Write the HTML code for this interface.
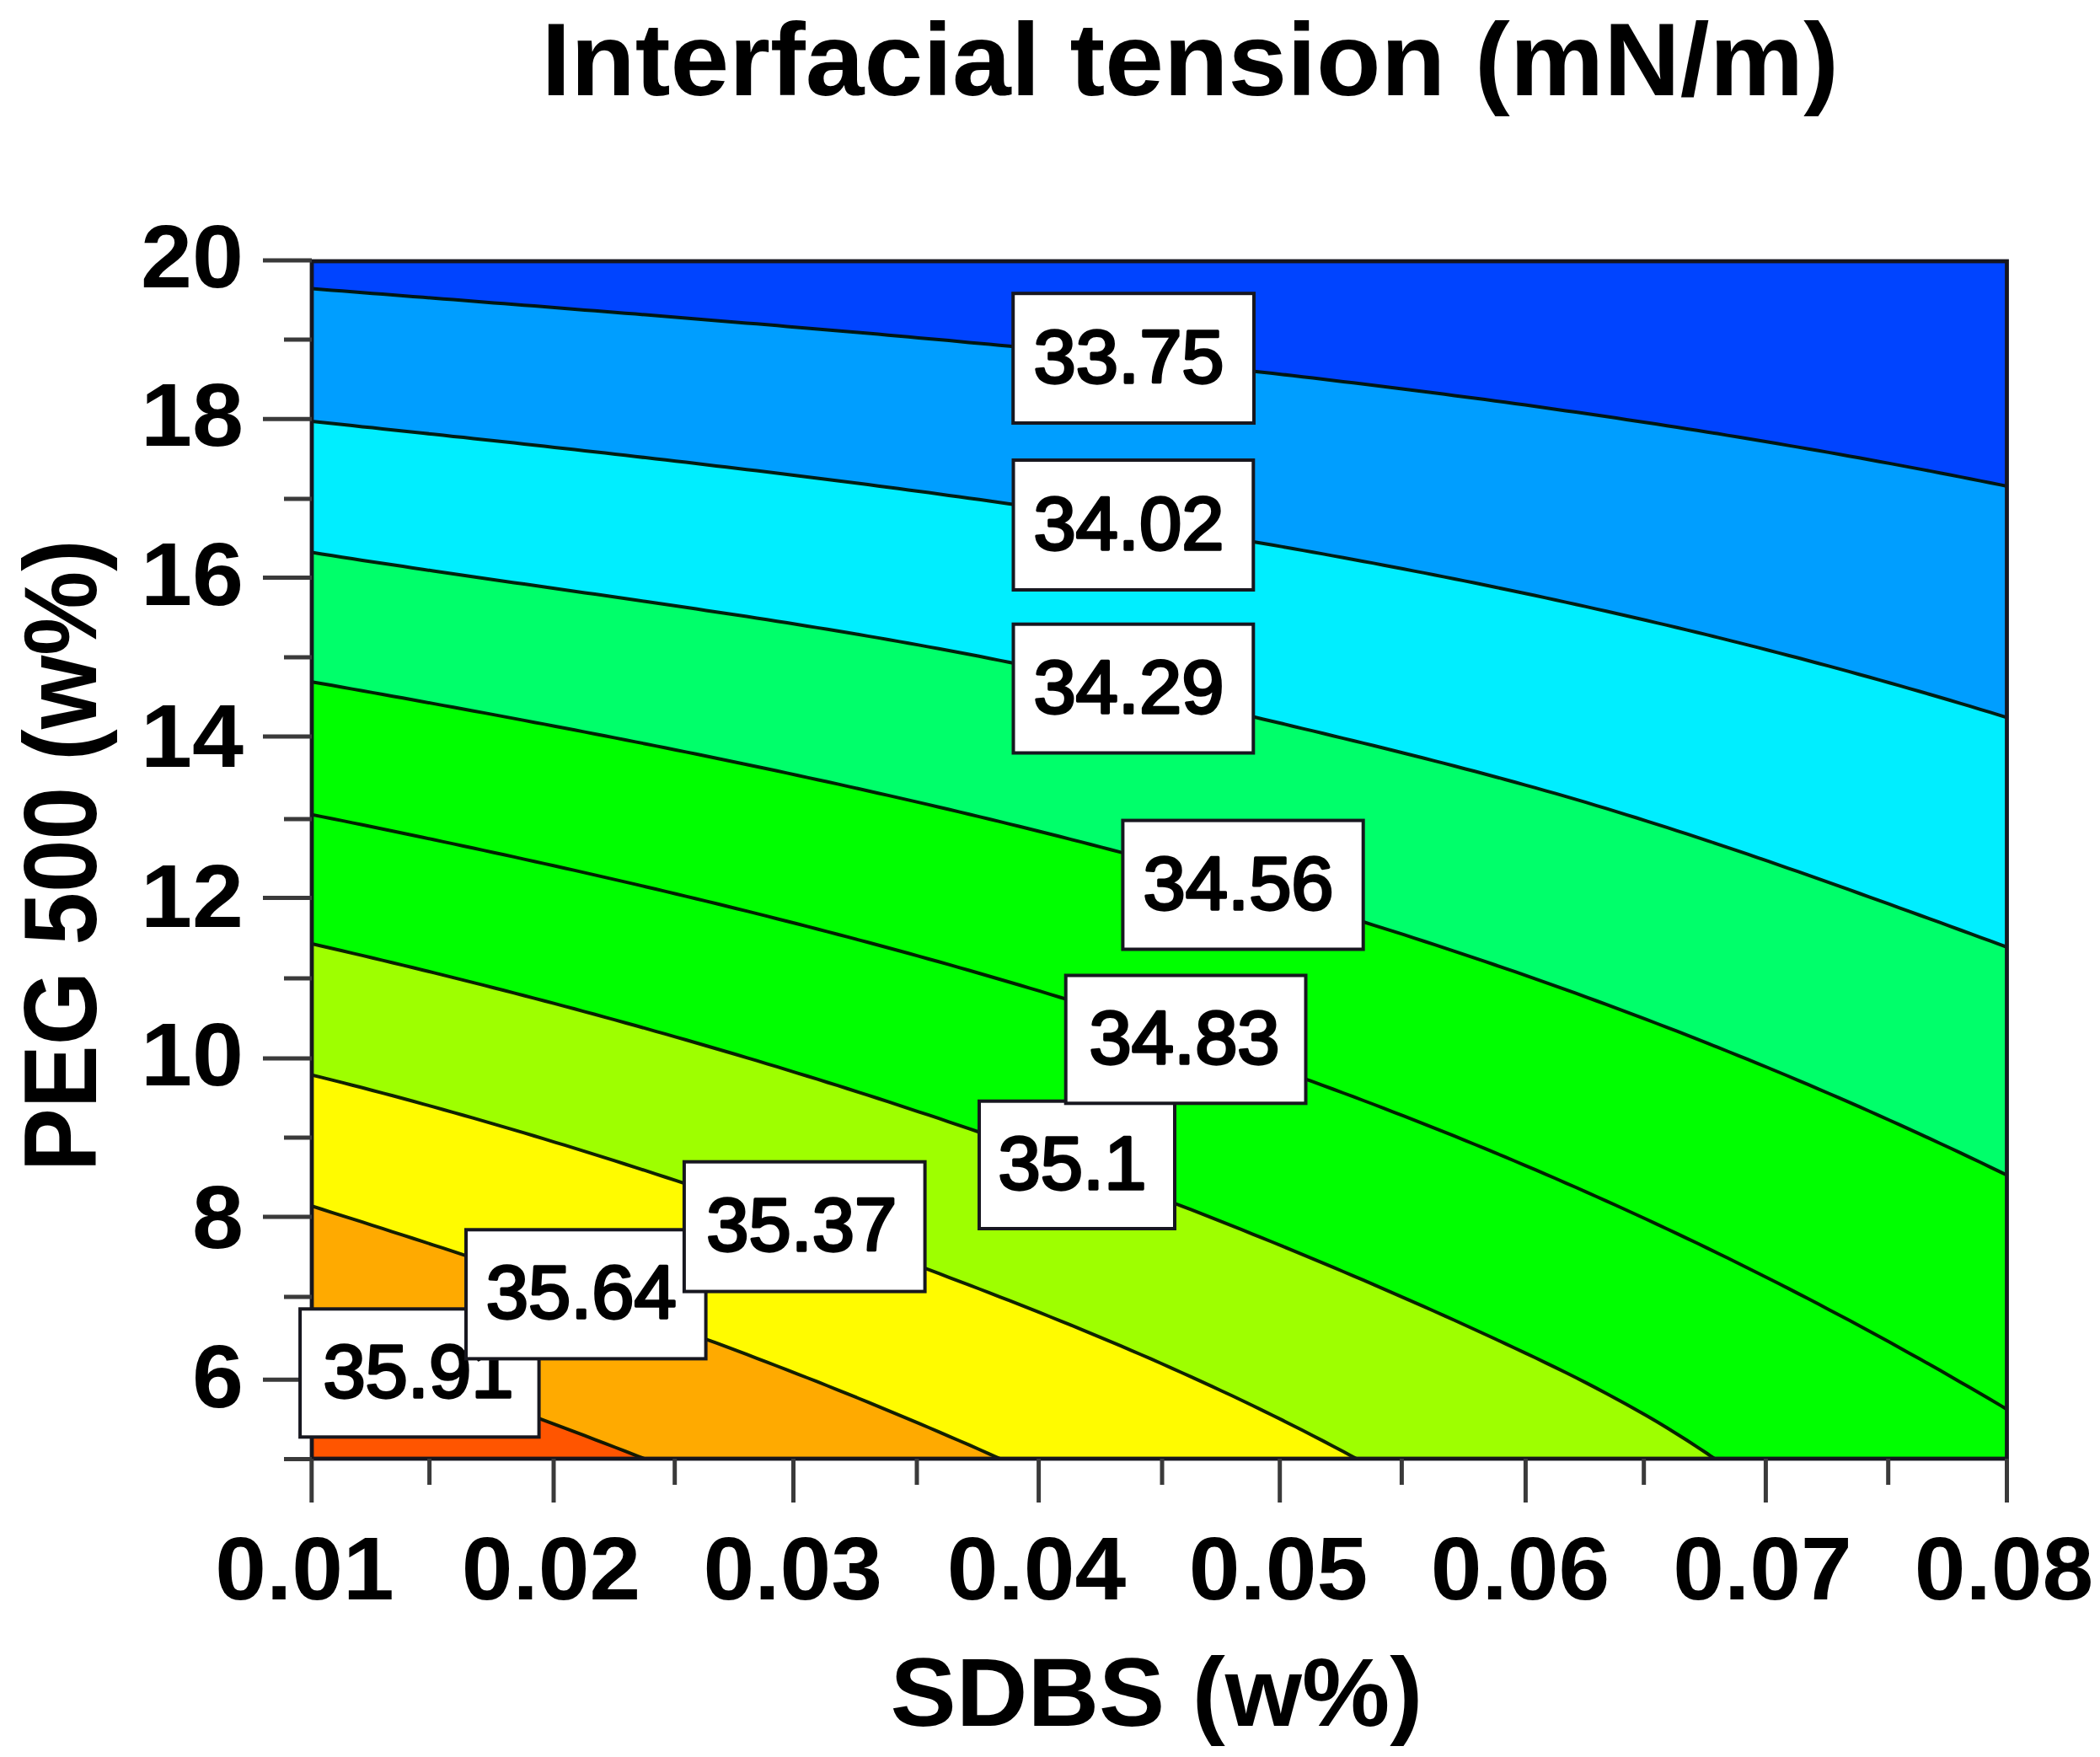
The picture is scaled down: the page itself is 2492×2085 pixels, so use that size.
<!DOCTYPE html>
<html><head><meta charset="utf-8"><title>Interfacial tension contour</title>
<style>html,body{margin:0;padding:0;background:#fff;overflow:hidden}svg{display:block}text{font-family:"Liberation Sans",sans-serif}.b{font-weight:bold}.r{font-weight:normal}</style></head>
<body>
<svg width="2492" height="2085" viewBox="0 0 2492 2085">
<defs><clipPath id="pc"><rect x="370.0" y="310.0" width="2011.5" height="1421.0"/></clipPath></defs>
<rect width="2492" height="2085" fill="#fff"/>
<g clip-path="url(#pc)">
<rect x="370.0" y="310.0" width="2011.5" height="1421.0" fill="#0044FF"/>
<path d="M360.0,341.7 L370.0,342.5 L382.0,343.5 L394.0,344.4 L406.0,345.3 L418.0,346.3 L430.0,347.2 L442.0,348.2 L454.0,349.1 L466.0,350.0 L478.0,351.0 L490.0,351.9 L502.0,352.8 L514.0,353.8 L526.0,354.7 L538.0,355.6 L550.0,356.6 L562.0,357.5 L574.0,358.4 L586.0,359.4 L598.0,360.3 L610.0,361.3 L622.0,362.2 L634.0,363.1 L646.0,364.1 L658.0,365.0 L670.0,366.0 L682.0,366.9 L694.0,367.9 L706.0,368.8 L718.0,369.8 L730.0,370.7 L742.0,371.7 L754.0,372.6 L766.0,373.6 L778.0,374.5 L790.0,375.5 L802.0,376.5 L814.0,377.5 L826.0,378.4 L838.0,379.4 L850.0,380.4 L862.0,381.4 L874.0,382.4 L886.0,383.4 L898.0,384.3 L910.0,385.3 L922.0,386.3 L934.0,387.4 L946.0,388.4 L958.0,389.4 L970.0,390.4 L982.0,391.4 L994.0,392.5 L1006.0,393.5 L1018.0,394.5 L1030.0,395.6 L1042.0,396.6 L1054.0,397.7 L1066.0,398.8 L1078.0,399.8 L1090.0,400.9 L1102.0,402.0 L1114.0,403.1 L1126.0,404.1 L1138.0,405.2 L1150.0,406.4 L1162.0,407.5 L1174.0,408.6 L1186.0,409.7 L1198.0,410.8 L1210.0,412.0 L1222.0,413.1 L1234.0,414.3 L1246.0,415.4 L1258.0,416.6 L1270.0,417.8 L1282.0,419.0 L1294.0,420.1 L1306.0,421.3 L1318.0,422.6 L1330.0,423.8 L1342.0,425.0 L1354.0,426.2 L1366.0,427.5 L1378.0,428.7 L1390.0,430.0 L1402.0,431.2 L1414.0,432.5 L1426.0,433.8 L1438.0,435.1 L1450.0,436.4 L1462.0,437.7 L1474.0,439.0 L1486.0,440.4 L1498.0,441.7 L1510.0,443.1 L1522.0,444.4 L1534.0,445.8 L1546.0,447.2 L1558.0,448.6 L1570.0,450.0 L1582.0,451.4 L1594.0,452.9 L1606.0,454.3 L1618.0,455.8 L1630.0,457.2 L1642.0,458.7 L1654.0,460.2 L1666.0,461.7 L1678.0,463.2 L1690.0,464.7 L1702.0,466.2 L1714.0,467.8 L1726.0,469.4 L1738.0,470.9 L1750.0,472.5 L1762.0,474.1 L1774.0,475.7 L1786.0,477.3 L1798.0,479.0 L1810.0,480.6 L1822.0,482.3 L1834.0,484.0 L1846.0,485.7 L1858.0,487.4 L1870.0,489.1 L1882.0,490.8 L1894.0,492.6 L1906.0,494.3 L1918.0,496.1 L1930.0,497.9 L1942.0,499.7 L1954.0,501.5 L1966.0,503.3 L1978.0,505.2 L1990.0,507.0 L2002.0,508.9 L2014.0,510.8 L2026.0,512.7 L2038.0,514.6 L2050.0,516.6 L2062.0,518.5 L2074.0,520.5 L2086.0,522.5 L2098.0,524.5 L2110.0,526.5 L2122.0,528.6 L2134.0,530.6 L2146.0,532.7 L2158.0,534.8 L2170.0,536.9 L2182.0,539.0 L2194.0,541.2 L2206.0,543.3 L2218.0,545.5 L2230.0,547.7 L2242.0,549.9 L2254.0,552.1 L2266.0,554.4 L2278.0,556.6 L2290.0,558.9 L2302.0,561.2 L2314.0,563.5 L2326.0,565.9 L2338.0,568.2 L2350.0,570.6 L2362.0,573.0 L2374.0,575.4 L2382.0,577.0 L2422.0,585.1 L2422.0,1791.0 L360.0,1791.0 Z" fill="#009EFF"/>
<path d="M360.0,499.0 L370.0,500.1 L382.0,501.3 L394.0,502.6 L406.0,503.8 L418.0,505.1 L430.0,506.4 L442.0,507.6 L454.0,508.9 L466.0,510.2 L478.0,511.5 L490.0,512.7 L502.0,514.0 L514.0,515.3 L526.0,516.6 L538.0,517.9 L550.0,519.1 L562.0,520.4 L574.0,521.7 L586.0,523.0 L598.0,524.3 L610.0,525.6 L622.0,527.0 L634.0,528.3 L646.0,529.6 L658.0,530.9 L670.0,532.2 L682.0,533.6 L694.0,534.9 L706.0,536.3 L718.0,537.6 L730.0,539.0 L742.0,540.3 L754.0,541.7 L766.0,543.1 L778.0,544.4 L790.0,545.8 L802.0,547.2 L814.0,548.6 L826.0,550.0 L838.0,551.4 L850.0,552.9 L862.0,554.3 L874.0,555.7 L886.0,557.2 L898.0,558.6 L910.0,560.1 L922.0,561.5 L934.0,563.0 L946.0,564.5 L958.0,566.0 L970.0,567.5 L982.0,569.0 L994.0,570.5 L1006.0,572.0 L1018.0,573.6 L1030.0,575.1 L1042.0,576.7 L1054.0,578.2 L1066.0,579.8 L1078.0,581.4 L1090.0,583.0 L1102.0,584.6 L1114.0,586.2 L1126.0,587.9 L1138.0,589.5 L1150.0,591.2 L1162.0,592.8 L1174.0,594.5 L1186.0,596.2 L1198.0,597.9 L1210.0,599.6 L1222.0,601.3 L1234.0,603.1 L1246.0,604.8 L1258.0,606.6 L1270.0,608.3 L1282.0,610.1 L1294.0,611.9 L1306.0,613.7 L1318.0,615.6 L1330.0,617.4 L1342.0,619.3 L1354.0,621.1 L1366.0,623.0 L1378.0,624.9 L1390.0,626.8 L1402.0,628.8 L1414.0,630.7 L1426.0,632.7 L1438.0,634.6 L1450.0,636.6 L1462.0,638.6 L1474.0,640.6 L1486.0,642.7 L1498.0,644.7 L1510.0,646.8 L1522.0,648.9 L1534.0,651.0 L1546.0,653.1 L1558.0,655.2 L1570.0,657.4 L1582.0,659.6 L1594.0,661.8 L1606.0,664.0 L1618.0,666.2 L1630.0,668.4 L1642.0,670.7 L1654.0,673.0 L1666.0,675.2 L1678.0,677.6 L1690.0,679.9 L1702.0,682.2 L1714.0,684.6 L1726.0,687.0 L1738.0,689.4 L1750.0,691.8 L1762.0,694.3 L1774.0,696.8 L1786.0,699.2 L1798.0,701.7 L1810.0,704.3 L1822.0,706.8 L1834.0,709.4 L1846.0,712.0 L1858.0,714.6 L1870.0,717.2 L1882.0,719.9 L1894.0,722.6 L1906.0,725.3 L1918.0,728.0 L1930.0,730.7 L1942.0,733.5 L1954.0,736.3 L1966.0,739.1 L1978.0,741.9 L1990.0,744.7 L2002.0,747.6 L2014.0,750.5 L2026.0,753.4 L2038.0,756.4 L2050.0,759.4 L2062.0,762.4 L2074.0,765.4 L2086.0,768.4 L2098.0,771.5 L2110.0,774.6 L2122.0,777.7 L2134.0,780.8 L2146.0,784.0 L2158.0,787.2 L2170.0,790.4 L2182.0,793.6 L2194.0,796.9 L2206.0,800.2 L2218.0,803.5 L2230.0,806.9 L2242.0,810.2 L2254.0,813.6 L2266.0,817.1 L2278.0,820.5 L2290.0,824.0 L2302.0,827.5 L2314.0,831.0 L2326.0,834.6 L2338.0,838.2 L2350.0,841.8 L2362.0,845.4 L2374.0,849.1 L2382.0,851.6 L2422.0,863.9 L2422.0,1791.0 L360.0,1791.0 Z" fill="#00EEFF"/>
<path d="M360.0,653.9 L370.0,655.5 L382.0,657.4 L394.0,659.3 L406.0,661.2 L418.0,663.0 L430.0,664.9 L442.0,666.7 L454.0,668.5 L466.0,670.3 L478.0,672.1 L490.0,673.9 L502.0,675.7 L514.0,677.5 L526.0,679.2 L538.0,681.0 L550.0,682.7 L562.0,684.5 L574.0,686.2 L586.0,687.9 L598.0,689.7 L610.0,691.4 L622.0,693.1 L634.0,694.8 L646.0,696.5 L658.0,698.3 L670.0,700.0 L682.0,701.7 L694.0,703.4 L706.0,705.1 L718.0,706.8 L730.0,708.6 L742.0,710.3 L754.0,712.0 L766.0,713.8 L778.0,715.5 L790.0,717.3 L802.0,719.0 L814.0,720.8 L826.0,722.6 L838.0,724.4 L850.0,726.2 L862.0,728.0 L874.0,729.8 L886.0,731.6 L898.0,733.5 L910.0,735.3 L922.0,737.2 L934.0,739.1 L946.0,741.0 L958.0,742.9 L970.0,744.9 L982.0,746.8 L994.0,748.8 L1006.0,750.8 L1018.0,752.8 L1030.0,754.9 L1042.0,756.9 L1054.0,759.0 L1066.0,761.1 L1078.0,763.2 L1090.0,765.4 L1102.0,767.6 L1114.0,769.8 L1126.0,772.0 L1138.0,774.2 L1150.0,776.5 L1162.0,778.8 L1174.0,781.2 L1186.0,783.6 L1198.0,786.0 L1210.0,788.4 L1222.0,790.8 L1234.0,793.3 L1246.0,795.9 L1258.0,798.4 L1270.0,801.0 L1282.0,803.6 L1294.0,806.2 L1306.0,808.8 L1318.0,811.5 L1330.0,814.2 L1342.0,816.9 L1354.0,819.6 L1366.0,822.3 L1378.0,825.1 L1390.0,827.9 L1402.0,830.6 L1414.0,833.4 L1426.0,836.2 L1438.0,839.0 L1450.0,841.9 L1462.0,844.7 L1474.0,847.5 L1486.0,850.3 L1498.0,853.2 L1510.0,856.0 L1522.0,858.8 L1534.0,861.7 L1546.0,864.6 L1558.0,867.4 L1570.0,870.3 L1582.0,873.2 L1594.0,876.1 L1606.0,879.0 L1618.0,881.9 L1630.0,884.8 L1642.0,887.8 L1654.0,890.8 L1666.0,893.8 L1678.0,896.8 L1690.0,899.8 L1702.0,902.9 L1714.0,905.9 L1726.0,909.0 L1738.0,912.2 L1750.0,915.3 L1762.0,918.5 L1774.0,921.7 L1786.0,925.0 L1798.0,928.3 L1810.0,931.6 L1822.0,934.9 L1834.0,938.3 L1846.0,941.7 L1858.0,945.2 L1870.0,948.7 L1882.0,952.2 L1894.0,955.8 L1906.0,959.4 L1918.0,963.1 L1930.0,966.8 L1942.0,970.5 L1954.0,974.3 L1966.0,978.1 L1978.0,981.9 L1990.0,985.8 L2002.0,989.7 L2014.0,993.6 L2026.0,997.6 L2038.0,1001.6 L2050.0,1005.6 L2062.0,1009.6 L2074.0,1013.7 L2086.0,1017.8 L2098.0,1021.9 L2110.0,1026.1 L2122.0,1030.3 L2134.0,1034.4 L2146.0,1038.6 L2158.0,1042.9 L2170.0,1047.1 L2182.0,1051.4 L2194.0,1055.7 L2206.0,1060.0 L2218.0,1064.3 L2230.0,1068.6 L2242.0,1072.9 L2254.0,1077.3 L2266.0,1081.6 L2278.0,1086.0 L2290.0,1090.4 L2302.0,1094.7 L2314.0,1099.1 L2326.0,1103.5 L2338.0,1107.9 L2350.0,1112.3 L2362.0,1116.7 L2374.0,1121.1 L2382.0,1124.0 L2422.0,1138.7 L2422.0,1791.0 L360.0,1791.0 Z" fill="#00FF6A"/>
<path d="M360.0,807.3 L370.0,809.1 L382.0,811.2 L394.0,813.3 L406.0,815.5 L418.0,817.6 L430.0,819.7 L442.0,821.9 L454.0,824.0 L466.0,826.2 L478.0,828.3 L490.0,830.5 L502.0,832.7 L514.0,834.9 L526.0,837.1 L538.0,839.3 L550.0,841.5 L562.0,843.7 L574.0,845.9 L586.0,848.1 L598.0,850.4 L610.0,852.6 L622.0,854.9 L634.0,857.2 L646.0,859.4 L658.0,861.7 L670.0,864.0 L682.0,866.3 L694.0,868.6 L706.0,871.0 L718.0,873.3 L730.0,875.6 L742.0,878.0 L754.0,880.4 L766.0,882.7 L778.0,885.1 L790.0,887.5 L802.0,890.0 L814.0,892.4 L826.0,894.8 L838.0,897.3 L850.0,899.8 L862.0,902.2 L874.0,904.7 L886.0,907.2 L898.0,909.8 L910.0,912.3 L922.0,914.8 L934.0,917.4 L946.0,920.0 L958.0,922.6 L970.0,925.2 L982.0,927.8 L994.0,930.4 L1006.0,933.1 L1018.0,935.8 L1030.0,938.5 L1042.0,941.2 L1054.0,943.9 L1066.0,946.6 L1078.0,949.4 L1090.0,952.1 L1102.0,954.9 L1114.0,957.7 L1126.0,960.5 L1138.0,963.4 L1150.0,966.2 L1162.0,969.1 L1174.0,972.0 L1186.0,974.9 L1198.0,977.9 L1210.0,980.8 L1222.0,983.8 L1234.0,986.8 L1246.0,989.8 L1258.0,992.8 L1270.0,995.9 L1282.0,998.9 L1294.0,1002.0 L1306.0,1005.1 L1318.0,1008.3 L1330.0,1011.4 L1342.0,1014.6 L1354.0,1017.8 L1366.0,1021.0 L1378.0,1024.3 L1390.0,1027.5 L1402.0,1030.8 L1414.0,1034.1 L1426.0,1037.4 L1438.0,1040.8 L1450.0,1044.2 L1462.0,1047.6 L1474.0,1051.0 L1486.0,1054.5 L1498.0,1057.9 L1510.0,1061.4 L1522.0,1065.0 L1534.0,1068.5 L1546.0,1072.1 L1558.0,1075.7 L1570.0,1079.3 L1582.0,1082.9 L1594.0,1086.6 L1606.0,1090.3 L1618.0,1094.0 L1630.0,1097.8 L1642.0,1101.6 L1654.0,1105.4 L1666.0,1109.2 L1678.0,1113.1 L1690.0,1117.0 L1702.0,1120.9 L1714.0,1124.8 L1726.0,1128.8 L1738.0,1132.8 L1750.0,1136.8 L1762.0,1140.9 L1774.0,1145.0 L1786.0,1149.1 L1798.0,1153.2 L1810.0,1157.4 L1822.0,1161.6 L1834.0,1165.9 L1846.0,1170.1 L1858.0,1174.4 L1870.0,1178.7 L1882.0,1183.1 L1894.0,1187.5 L1906.0,1191.9 L1918.0,1196.4 L1930.0,1200.8 L1942.0,1205.4 L1954.0,1209.9 L1966.0,1214.5 L1978.0,1219.1 L1990.0,1223.7 L2002.0,1228.4 L2014.0,1233.1 L2026.0,1237.9 L2038.0,1242.7 L2050.0,1247.5 L2062.0,1252.3 L2074.0,1257.2 L2086.0,1262.1 L2098.0,1267.0 L2110.0,1272.0 L2122.0,1277.0 L2134.0,1282.1 L2146.0,1287.2 L2158.0,1292.3 L2170.0,1297.5 L2182.0,1302.7 L2194.0,1307.9 L2206.0,1313.2 L2218.0,1318.5 L2230.0,1323.8 L2242.0,1329.2 L2254.0,1334.6 L2266.0,1340.1 L2278.0,1345.6 L2290.0,1351.1 L2302.0,1356.7 L2314.0,1362.3 L2326.0,1367.9 L2338.0,1373.6 L2350.0,1379.3 L2362.0,1385.1 L2374.0,1390.9 L2382.0,1394.8 L2422.0,1414.2 L2422.0,1791.0 L360.0,1791.0 Z" fill="#00FF00"/>
<path d="M360.0,964.6 L370.0,966.6 L382.0,969.1 L394.0,971.5 L406.0,973.9 L418.0,976.4 L430.0,978.8 L442.0,981.3 L454.0,983.8 L466.0,986.3 L478.0,988.8 L490.0,991.3 L502.0,993.8 L514.0,996.3 L526.0,998.9 L538.0,1001.4 L550.0,1004.0 L562.0,1006.5 L574.0,1009.1 L586.0,1011.7 L598.0,1014.3 L610.0,1016.9 L622.0,1019.6 L634.0,1022.2 L646.0,1024.9 L658.0,1027.5 L670.0,1030.2 L682.0,1032.9 L694.0,1035.6 L706.0,1038.4 L718.0,1041.1 L730.0,1043.9 L742.0,1046.6 L754.0,1049.4 L766.0,1052.2 L778.0,1055.0 L790.0,1057.9 L802.0,1060.7 L814.0,1063.6 L826.0,1066.5 L838.0,1069.4 L850.0,1072.3 L862.0,1075.2 L874.0,1078.2 L886.0,1081.1 L898.0,1084.1 L910.0,1087.1 L922.0,1090.2 L934.0,1093.2 L946.0,1096.3 L958.0,1099.4 L970.0,1102.5 L982.0,1105.6 L994.0,1108.7 L1006.0,1111.9 L1018.0,1115.1 L1030.0,1118.3 L1042.0,1121.5 L1054.0,1124.8 L1066.0,1128.0 L1078.0,1131.3 L1090.0,1134.6 L1102.0,1138.0 L1114.0,1141.3 L1126.0,1144.7 L1138.0,1148.1 L1150.0,1151.5 L1162.0,1155.0 L1174.0,1158.5 L1186.0,1162.0 L1198.0,1165.5 L1210.0,1169.0 L1222.0,1172.6 L1234.0,1176.2 L1246.0,1179.8 L1258.0,1183.5 L1270.0,1187.1 L1282.0,1190.8 L1294.0,1194.6 L1306.0,1198.3 L1318.0,1202.1 L1330.0,1205.9 L1342.0,1209.7 L1354.0,1213.6 L1366.0,1217.5 L1378.0,1221.4 L1390.0,1225.3 L1402.0,1229.3 L1414.0,1233.3 L1426.0,1237.4 L1438.0,1241.4 L1450.0,1245.5 L1462.0,1249.6 L1474.0,1253.8 L1486.0,1257.9 L1498.0,1262.2 L1510.0,1266.4 L1522.0,1270.7 L1534.0,1275.0 L1546.0,1279.3 L1558.0,1283.7 L1570.0,1288.1 L1582.0,1292.5 L1594.0,1297.0 L1606.0,1301.4 L1618.0,1306.0 L1630.0,1310.5 L1642.0,1315.1 L1654.0,1319.8 L1666.0,1324.4 L1678.0,1329.1 L1690.0,1333.8 L1702.0,1338.6 L1714.0,1343.4 L1726.0,1348.2 L1738.0,1353.1 L1750.0,1358.0 L1762.0,1362.9 L1774.0,1367.9 L1786.0,1372.9 L1798.0,1378.0 L1810.0,1383.1 L1822.0,1388.2 L1834.0,1393.3 L1846.0,1398.5 L1858.0,1403.8 L1870.0,1409.0 L1882.0,1414.3 L1894.0,1419.7 L1906.0,1425.1 L1918.0,1430.5 L1930.0,1436.0 L1942.0,1441.5 L1954.0,1447.0 L1966.0,1452.6 L1978.0,1458.2 L1990.0,1463.9 L2002.0,1469.6 L2014.0,1475.3 L2026.0,1481.1 L2038.0,1487.0 L2050.0,1492.8 L2062.0,1498.7 L2074.0,1504.7 L2086.0,1510.7 L2098.0,1516.7 L2110.0,1522.8 L2122.0,1528.9 L2134.0,1535.1 L2146.0,1541.3 L2158.0,1547.6 L2170.0,1553.9 L2182.0,1560.2 L2194.0,1566.6 L2206.0,1573.0 L2218.0,1579.5 L2230.0,1586.0 L2242.0,1592.6 L2254.0,1599.2 L2266.0,1605.9 L2278.0,1612.6 L2290.0,1619.3 L2302.0,1626.1 L2314.0,1633.0 L2326.0,1639.9 L2338.0,1646.8 L2350.0,1653.8 L2362.0,1660.8 L2374.0,1667.9 L2382.0,1672.7 L2422.0,1696.4 L2422.0,1791.0 L360.0,1791.0 Z" fill="#00FF00"/>
<path d="M360.0,1117.7 L370.0,1120.0 L382.0,1122.7 L394.0,1125.5 L406.0,1128.3 L418.0,1131.1 L430.0,1133.9 L442.0,1136.8 L454.0,1139.6 L466.0,1142.5 L478.0,1145.4 L490.0,1148.3 L502.0,1151.2 L514.0,1154.1 L526.0,1157.1 L538.0,1160.1 L550.0,1163.1 L562.0,1166.1 L574.0,1169.1 L586.0,1172.2 L598.0,1175.3 L610.0,1178.4 L622.0,1181.5 L634.0,1184.6 L646.0,1187.8 L658.0,1190.9 L670.0,1194.1 L682.0,1197.3 L694.0,1200.6 L706.0,1203.8 L718.0,1207.1 L730.0,1210.4 L742.0,1213.7 L754.0,1217.0 L766.0,1220.4 L778.0,1223.8 L790.0,1227.2 L802.0,1230.6 L814.0,1234.0 L826.0,1237.5 L838.0,1241.0 L850.0,1244.5 L862.0,1248.0 L874.0,1251.5 L886.0,1255.1 L898.0,1258.7 L910.0,1262.3 L922.0,1265.9 L934.0,1269.6 L946.0,1273.3 L958.0,1277.0 L970.0,1280.7 L982.0,1284.5 L994.0,1288.2 L1006.0,1292.0 L1018.0,1295.8 L1030.0,1299.7 L1042.0,1303.5 L1054.0,1307.4 L1066.0,1311.4 L1078.0,1315.3 L1090.0,1319.3 L1102.0,1323.2 L1114.0,1327.2 L1126.0,1331.3 L1138.0,1335.3 L1150.0,1339.4 L1162.0,1343.5 L1174.0,1347.7 L1186.0,1351.8 L1198.0,1356.0 L1210.0,1360.2 L1222.0,1364.4 L1234.0,1368.7 L1246.0,1373.0 L1258.0,1377.3 L1270.0,1381.6 L1282.0,1386.0 L1294.0,1390.4 L1306.0,1394.8 L1318.0,1399.3 L1330.0,1403.7 L1342.0,1408.2 L1354.0,1412.7 L1366.0,1417.3 L1378.0,1421.9 L1390.0,1426.5 L1402.0,1431.1 L1414.0,1435.7 L1426.0,1440.4 L1438.0,1445.1 L1450.0,1449.9 L1462.0,1454.7 L1474.0,1459.4 L1486.0,1464.3 L1498.0,1469.1 L1510.0,1474.0 L1522.0,1478.9 L1534.0,1483.9 L1546.0,1488.8 L1558.0,1493.8 L1570.0,1498.8 L1582.0,1503.9 L1594.0,1509.0 L1606.0,1514.1 L1618.0,1519.2 L1630.0,1524.4 L1642.0,1529.6 L1654.0,1534.8 L1666.0,1540.1 L1678.0,1545.4 L1690.0,1550.7 L1702.0,1556.0 L1714.0,1561.4 L1726.0,1566.8 L1738.0,1572.3 L1750.0,1577.7 L1762.0,1583.3 L1774.0,1588.8 L1786.0,1594.4 L1798.0,1600.0 L1810.0,1605.6 L1822.0,1611.3 L1834.0,1617.1 L1846.0,1622.9 L1858.0,1628.8 L1870.0,1634.8 L1882.0,1640.9 L1894.0,1647.1 L1906.0,1653.4 L1918.0,1659.9 L1930.0,1666.5 L1942.0,1673.2 L1954.0,1680.1 L1966.0,1687.1 L1978.0,1694.3 L1990.0,1701.7 L2002.0,1709.3 L2014.0,1717.1 L2026.0,1725.0 L2030.0,1727.8 L2070.0,1754.8 L2070.0,1791.0 L360.0,1791.0 Z" fill="#9EFF00"/>
<path d="M360.0,1273.1 L370.0,1275.6 L382.0,1278.6 L394.0,1281.6 L406.0,1284.6 L418.0,1287.7 L430.0,1290.8 L442.0,1294.0 L454.0,1297.1 L466.0,1300.3 L478.0,1303.5 L490.0,1306.8 L502.0,1310.1 L514.0,1313.4 L526.0,1316.7 L538.0,1320.1 L550.0,1323.5 L562.0,1326.9 L574.0,1330.4 L586.0,1333.8 L598.0,1337.3 L610.0,1340.9 L622.0,1344.4 L634.0,1348.0 L646.0,1351.6 L658.0,1355.3 L670.0,1358.9 L682.0,1362.6 L694.0,1366.3 L706.0,1370.1 L718.0,1373.9 L730.0,1377.7 L742.0,1381.5 L754.0,1385.3 L766.0,1389.2 L778.0,1393.1 L790.0,1397.0 L802.0,1400.9 L814.0,1404.9 L826.0,1408.9 L838.0,1412.9 L850.0,1416.9 L862.0,1421.0 L874.0,1425.1 L886.0,1429.2 L898.0,1433.3 L910.0,1437.4 L922.0,1441.6 L934.0,1445.8 L946.0,1450.0 L958.0,1454.3 L970.0,1458.5 L982.0,1462.8 L994.0,1467.1 L1006.0,1471.4 L1018.0,1475.8 L1030.0,1480.1 L1042.0,1484.5 L1054.0,1488.9 L1066.0,1493.3 L1078.0,1497.8 L1090.0,1502.3 L1102.0,1506.7 L1114.0,1511.2 L1126.0,1515.8 L1138.0,1520.3 L1150.0,1524.9 L1162.0,1529.5 L1174.0,1534.1 L1186.0,1538.8 L1198.0,1543.4 L1210.0,1548.1 L1222.0,1552.9 L1234.0,1557.7 L1246.0,1562.5 L1258.0,1567.3 L1270.0,1572.2 L1282.0,1577.1 L1294.0,1582.1 L1306.0,1587.1 L1318.0,1592.1 L1330.0,1597.2 L1342.0,1602.3 L1354.0,1607.5 L1366.0,1612.7 L1378.0,1618.0 L1390.0,1623.3 L1402.0,1628.7 L1414.0,1634.1 L1426.0,1639.6 L1438.0,1645.1 L1450.0,1650.7 L1462.0,1656.3 L1474.0,1662.0 L1486.0,1667.8 L1498.0,1673.6 L1510.0,1679.5 L1522.0,1685.4 L1534.0,1691.5 L1546.0,1697.5 L1558.0,1703.7 L1570.0,1709.9 L1582.0,1716.2 L1594.0,1722.6 L1604.0,1727.9 L1644.0,1749.4 L1644.0,1791.0 L360.0,1791.0 Z" fill="#FFFB00"/>
<path d="M360.0,1428.0 L370.0,1431.2 L382.0,1435.0 L394.0,1438.8 L406.0,1442.6 L418.0,1446.4 L430.0,1450.2 L442.0,1454.1 L454.0,1457.9 L466.0,1461.8 L478.0,1465.6 L490.0,1469.5 L502.0,1473.4 L514.0,1477.3 L526.0,1481.2 L538.0,1485.2 L550.0,1489.1 L562.0,1493.1 L574.0,1497.0 L586.0,1501.0 L598.0,1505.0 L610.0,1509.1 L622.0,1513.1 L634.0,1517.1 L646.0,1521.2 L658.0,1525.3 L670.0,1529.4 L682.0,1533.6 L694.0,1537.7 L706.0,1541.9 L718.0,1546.1 L730.0,1550.3 L742.0,1554.5 L754.0,1558.8 L766.0,1563.1 L778.0,1567.4 L790.0,1571.7 L802.0,1576.1 L814.0,1580.4 L826.0,1584.8 L838.0,1589.3 L850.0,1593.7 L862.0,1598.2 L874.0,1602.7 L886.0,1607.2 L898.0,1611.8 L910.0,1616.4 L922.0,1621.0 L934.0,1625.6 L946.0,1630.3 L958.0,1635.0 L970.0,1639.7 L982.0,1644.5 L994.0,1649.3 L1006.0,1654.1 L1018.0,1659.0 L1030.0,1663.9 L1042.0,1668.8 L1054.0,1673.8 L1066.0,1678.8 L1078.0,1683.8 L1090.0,1688.9 L1102.0,1694.0 L1114.0,1699.1 L1126.0,1704.3 L1138.0,1709.5 L1150.0,1714.7 L1162.0,1720.0 L1174.0,1725.3 L1180.0,1728.0 L1220.0,1745.8 L1220.0,1791.0 L360.0,1791.0 Z" fill="#FFAA00"/>
<path d="M360.0,1585.7 L370.0,1589.0 L382.0,1592.9 L394.0,1596.9 L406.0,1600.9 L418.0,1604.9 L430.0,1609.0 L442.0,1613.0 L454.0,1617.1 L466.0,1621.2 L478.0,1625.3 L490.0,1629.5 L502.0,1633.7 L514.0,1637.9 L526.0,1642.1 L538.0,1646.3 L550.0,1650.6 L562.0,1654.9 L574.0,1659.2 L586.0,1663.6 L598.0,1667.9 L610.0,1672.3 L622.0,1676.7 L634.0,1681.2 L646.0,1685.6 L658.0,1690.1 L670.0,1694.6 L682.0,1699.2 L694.0,1703.7 L706.0,1708.3 L718.0,1712.9 L730.0,1717.5 L742.0,1722.2 L754.0,1726.8 L757.0,1728.0 L797.0,1743.6 L797.0,1791.0 L360.0,1791.0 Z" fill="#FF5500"/>
<path d="M360.0,341.7 L370.0,342.5 L382.0,343.5 L394.0,344.4 L406.0,345.3 L418.0,346.3 L430.0,347.2 L442.0,348.2 L454.0,349.1 L466.0,350.0 L478.0,351.0 L490.0,351.9 L502.0,352.8 L514.0,353.8 L526.0,354.7 L538.0,355.6 L550.0,356.6 L562.0,357.5 L574.0,358.4 L586.0,359.4 L598.0,360.3 L610.0,361.3 L622.0,362.2 L634.0,363.1 L646.0,364.1 L658.0,365.0 L670.0,366.0 L682.0,366.9 L694.0,367.9 L706.0,368.8 L718.0,369.8 L730.0,370.7 L742.0,371.7 L754.0,372.6 L766.0,373.6 L778.0,374.5 L790.0,375.5 L802.0,376.5 L814.0,377.5 L826.0,378.4 L838.0,379.4 L850.0,380.4 L862.0,381.4 L874.0,382.4 L886.0,383.4 L898.0,384.3 L910.0,385.3 L922.0,386.3 L934.0,387.4 L946.0,388.4 L958.0,389.4 L970.0,390.4 L982.0,391.4 L994.0,392.5 L1006.0,393.5 L1018.0,394.5 L1030.0,395.6 L1042.0,396.6 L1054.0,397.7 L1066.0,398.8 L1078.0,399.8 L1090.0,400.9 L1102.0,402.0 L1114.0,403.1 L1126.0,404.1 L1138.0,405.2 L1150.0,406.4 L1162.0,407.5 L1174.0,408.6 L1186.0,409.7 L1198.0,410.8 L1210.0,412.0 L1222.0,413.1 L1234.0,414.3 L1246.0,415.4 L1258.0,416.6 L1270.0,417.8 L1282.0,419.0 L1294.0,420.1 L1306.0,421.3 L1318.0,422.6 L1330.0,423.8 L1342.0,425.0 L1354.0,426.2 L1366.0,427.5 L1378.0,428.7 L1390.0,430.0 L1402.0,431.2 L1414.0,432.5 L1426.0,433.8 L1438.0,435.1 L1450.0,436.4 L1462.0,437.7 L1474.0,439.0 L1486.0,440.4 L1498.0,441.7 L1510.0,443.1 L1522.0,444.4 L1534.0,445.8 L1546.0,447.2 L1558.0,448.6 L1570.0,450.0 L1582.0,451.4 L1594.0,452.9 L1606.0,454.3 L1618.0,455.8 L1630.0,457.2 L1642.0,458.7 L1654.0,460.2 L1666.0,461.7 L1678.0,463.2 L1690.0,464.7 L1702.0,466.2 L1714.0,467.8 L1726.0,469.4 L1738.0,470.9 L1750.0,472.5 L1762.0,474.1 L1774.0,475.7 L1786.0,477.3 L1798.0,479.0 L1810.0,480.6 L1822.0,482.3 L1834.0,484.0 L1846.0,485.7 L1858.0,487.4 L1870.0,489.1 L1882.0,490.8 L1894.0,492.6 L1906.0,494.3 L1918.0,496.1 L1930.0,497.9 L1942.0,499.7 L1954.0,501.5 L1966.0,503.3 L1978.0,505.2 L1990.0,507.0 L2002.0,508.9 L2014.0,510.8 L2026.0,512.7 L2038.0,514.6 L2050.0,516.6 L2062.0,518.5 L2074.0,520.5 L2086.0,522.5 L2098.0,524.5 L2110.0,526.5 L2122.0,528.6 L2134.0,530.6 L2146.0,532.7 L2158.0,534.8 L2170.0,536.9 L2182.0,539.0 L2194.0,541.2 L2206.0,543.3 L2218.0,545.5 L2230.0,547.7 L2242.0,549.9 L2254.0,552.1 L2266.0,554.4 L2278.0,556.6 L2290.0,558.9 L2302.0,561.2 L2314.0,563.5 L2326.0,565.9 L2338.0,568.2 L2350.0,570.6 L2362.0,573.0 L2374.0,575.4 L2382.0,577.0 L2422.0,585.1" fill="none" stroke="#001000" stroke-width="4" stroke-opacity="0.92"/>
<path d="M360.0,499.0 L370.0,500.1 L382.0,501.3 L394.0,502.6 L406.0,503.8 L418.0,505.1 L430.0,506.4 L442.0,507.6 L454.0,508.9 L466.0,510.2 L478.0,511.5 L490.0,512.7 L502.0,514.0 L514.0,515.3 L526.0,516.6 L538.0,517.9 L550.0,519.1 L562.0,520.4 L574.0,521.7 L586.0,523.0 L598.0,524.3 L610.0,525.6 L622.0,527.0 L634.0,528.3 L646.0,529.6 L658.0,530.9 L670.0,532.2 L682.0,533.6 L694.0,534.9 L706.0,536.3 L718.0,537.6 L730.0,539.0 L742.0,540.3 L754.0,541.7 L766.0,543.1 L778.0,544.4 L790.0,545.8 L802.0,547.2 L814.0,548.6 L826.0,550.0 L838.0,551.4 L850.0,552.9 L862.0,554.3 L874.0,555.7 L886.0,557.2 L898.0,558.6 L910.0,560.1 L922.0,561.5 L934.0,563.0 L946.0,564.5 L958.0,566.0 L970.0,567.5 L982.0,569.0 L994.0,570.5 L1006.0,572.0 L1018.0,573.6 L1030.0,575.1 L1042.0,576.7 L1054.0,578.2 L1066.0,579.8 L1078.0,581.4 L1090.0,583.0 L1102.0,584.6 L1114.0,586.2 L1126.0,587.9 L1138.0,589.5 L1150.0,591.2 L1162.0,592.8 L1174.0,594.5 L1186.0,596.2 L1198.0,597.9 L1210.0,599.6 L1222.0,601.3 L1234.0,603.1 L1246.0,604.8 L1258.0,606.6 L1270.0,608.3 L1282.0,610.1 L1294.0,611.9 L1306.0,613.7 L1318.0,615.6 L1330.0,617.4 L1342.0,619.3 L1354.0,621.1 L1366.0,623.0 L1378.0,624.9 L1390.0,626.8 L1402.0,628.8 L1414.0,630.7 L1426.0,632.7 L1438.0,634.6 L1450.0,636.6 L1462.0,638.6 L1474.0,640.6 L1486.0,642.7 L1498.0,644.7 L1510.0,646.8 L1522.0,648.9 L1534.0,651.0 L1546.0,653.1 L1558.0,655.2 L1570.0,657.4 L1582.0,659.6 L1594.0,661.8 L1606.0,664.0 L1618.0,666.2 L1630.0,668.4 L1642.0,670.7 L1654.0,673.0 L1666.0,675.2 L1678.0,677.6 L1690.0,679.9 L1702.0,682.2 L1714.0,684.6 L1726.0,687.0 L1738.0,689.4 L1750.0,691.8 L1762.0,694.3 L1774.0,696.8 L1786.0,699.2 L1798.0,701.7 L1810.0,704.3 L1822.0,706.8 L1834.0,709.4 L1846.0,712.0 L1858.0,714.6 L1870.0,717.2 L1882.0,719.9 L1894.0,722.6 L1906.0,725.3 L1918.0,728.0 L1930.0,730.7 L1942.0,733.5 L1954.0,736.3 L1966.0,739.1 L1978.0,741.9 L1990.0,744.7 L2002.0,747.6 L2014.0,750.5 L2026.0,753.4 L2038.0,756.4 L2050.0,759.4 L2062.0,762.4 L2074.0,765.4 L2086.0,768.4 L2098.0,771.5 L2110.0,774.6 L2122.0,777.7 L2134.0,780.8 L2146.0,784.0 L2158.0,787.2 L2170.0,790.4 L2182.0,793.6 L2194.0,796.9 L2206.0,800.2 L2218.0,803.5 L2230.0,806.9 L2242.0,810.2 L2254.0,813.6 L2266.0,817.1 L2278.0,820.5 L2290.0,824.0 L2302.0,827.5 L2314.0,831.0 L2326.0,834.6 L2338.0,838.2 L2350.0,841.8 L2362.0,845.4 L2374.0,849.1 L2382.0,851.6 L2422.0,863.9" fill="none" stroke="#001000" stroke-width="4" stroke-opacity="0.92"/>
<path d="M360.0,653.9 L370.0,655.5 L382.0,657.4 L394.0,659.3 L406.0,661.2 L418.0,663.0 L430.0,664.9 L442.0,666.7 L454.0,668.5 L466.0,670.3 L478.0,672.1 L490.0,673.9 L502.0,675.7 L514.0,677.5 L526.0,679.2 L538.0,681.0 L550.0,682.7 L562.0,684.5 L574.0,686.2 L586.0,687.9 L598.0,689.7 L610.0,691.4 L622.0,693.1 L634.0,694.8 L646.0,696.5 L658.0,698.3 L670.0,700.0 L682.0,701.7 L694.0,703.4 L706.0,705.1 L718.0,706.8 L730.0,708.6 L742.0,710.3 L754.0,712.0 L766.0,713.8 L778.0,715.5 L790.0,717.3 L802.0,719.0 L814.0,720.8 L826.0,722.6 L838.0,724.4 L850.0,726.2 L862.0,728.0 L874.0,729.8 L886.0,731.6 L898.0,733.5 L910.0,735.3 L922.0,737.2 L934.0,739.1 L946.0,741.0 L958.0,742.9 L970.0,744.9 L982.0,746.8 L994.0,748.8 L1006.0,750.8 L1018.0,752.8 L1030.0,754.9 L1042.0,756.9 L1054.0,759.0 L1066.0,761.1 L1078.0,763.2 L1090.0,765.4 L1102.0,767.6 L1114.0,769.8 L1126.0,772.0 L1138.0,774.2 L1150.0,776.5 L1162.0,778.8 L1174.0,781.2 L1186.0,783.6 L1198.0,786.0 L1210.0,788.4 L1222.0,790.8 L1234.0,793.3 L1246.0,795.9 L1258.0,798.4 L1270.0,801.0 L1282.0,803.6 L1294.0,806.2 L1306.0,808.8 L1318.0,811.5 L1330.0,814.2 L1342.0,816.9 L1354.0,819.6 L1366.0,822.3 L1378.0,825.1 L1390.0,827.9 L1402.0,830.6 L1414.0,833.4 L1426.0,836.2 L1438.0,839.0 L1450.0,841.9 L1462.0,844.7 L1474.0,847.5 L1486.0,850.3 L1498.0,853.2 L1510.0,856.0 L1522.0,858.8 L1534.0,861.7 L1546.0,864.6 L1558.0,867.4 L1570.0,870.3 L1582.0,873.2 L1594.0,876.1 L1606.0,879.0 L1618.0,881.9 L1630.0,884.8 L1642.0,887.8 L1654.0,890.8 L1666.0,893.8 L1678.0,896.8 L1690.0,899.8 L1702.0,902.9 L1714.0,905.9 L1726.0,909.0 L1738.0,912.2 L1750.0,915.3 L1762.0,918.5 L1774.0,921.7 L1786.0,925.0 L1798.0,928.3 L1810.0,931.6 L1822.0,934.9 L1834.0,938.3 L1846.0,941.7 L1858.0,945.2 L1870.0,948.7 L1882.0,952.2 L1894.0,955.8 L1906.0,959.4 L1918.0,963.1 L1930.0,966.8 L1942.0,970.5 L1954.0,974.3 L1966.0,978.1 L1978.0,981.9 L1990.0,985.8 L2002.0,989.7 L2014.0,993.6 L2026.0,997.6 L2038.0,1001.6 L2050.0,1005.6 L2062.0,1009.6 L2074.0,1013.7 L2086.0,1017.8 L2098.0,1021.9 L2110.0,1026.1 L2122.0,1030.3 L2134.0,1034.4 L2146.0,1038.6 L2158.0,1042.9 L2170.0,1047.1 L2182.0,1051.4 L2194.0,1055.7 L2206.0,1060.0 L2218.0,1064.3 L2230.0,1068.6 L2242.0,1072.9 L2254.0,1077.3 L2266.0,1081.6 L2278.0,1086.0 L2290.0,1090.4 L2302.0,1094.7 L2314.0,1099.1 L2326.0,1103.5 L2338.0,1107.9 L2350.0,1112.3 L2362.0,1116.7 L2374.0,1121.1 L2382.0,1124.0 L2422.0,1138.7" fill="none" stroke="#001000" stroke-width="4" stroke-opacity="0.92"/>
<path d="M360.0,807.3 L370.0,809.1 L382.0,811.2 L394.0,813.3 L406.0,815.5 L418.0,817.6 L430.0,819.7 L442.0,821.9 L454.0,824.0 L466.0,826.2 L478.0,828.3 L490.0,830.5 L502.0,832.7 L514.0,834.9 L526.0,837.1 L538.0,839.3 L550.0,841.5 L562.0,843.7 L574.0,845.9 L586.0,848.1 L598.0,850.4 L610.0,852.6 L622.0,854.9 L634.0,857.2 L646.0,859.4 L658.0,861.7 L670.0,864.0 L682.0,866.3 L694.0,868.6 L706.0,871.0 L718.0,873.3 L730.0,875.6 L742.0,878.0 L754.0,880.4 L766.0,882.7 L778.0,885.1 L790.0,887.5 L802.0,890.0 L814.0,892.4 L826.0,894.8 L838.0,897.3 L850.0,899.8 L862.0,902.2 L874.0,904.7 L886.0,907.2 L898.0,909.8 L910.0,912.3 L922.0,914.8 L934.0,917.4 L946.0,920.0 L958.0,922.6 L970.0,925.2 L982.0,927.8 L994.0,930.4 L1006.0,933.1 L1018.0,935.8 L1030.0,938.5 L1042.0,941.2 L1054.0,943.9 L1066.0,946.6 L1078.0,949.4 L1090.0,952.1 L1102.0,954.9 L1114.0,957.7 L1126.0,960.5 L1138.0,963.4 L1150.0,966.2 L1162.0,969.1 L1174.0,972.0 L1186.0,974.9 L1198.0,977.9 L1210.0,980.8 L1222.0,983.8 L1234.0,986.8 L1246.0,989.8 L1258.0,992.8 L1270.0,995.9 L1282.0,998.9 L1294.0,1002.0 L1306.0,1005.1 L1318.0,1008.3 L1330.0,1011.4 L1342.0,1014.6 L1354.0,1017.8 L1366.0,1021.0 L1378.0,1024.3 L1390.0,1027.5 L1402.0,1030.8 L1414.0,1034.1 L1426.0,1037.4 L1438.0,1040.8 L1450.0,1044.2 L1462.0,1047.6 L1474.0,1051.0 L1486.0,1054.5 L1498.0,1057.9 L1510.0,1061.4 L1522.0,1065.0 L1534.0,1068.5 L1546.0,1072.1 L1558.0,1075.7 L1570.0,1079.3 L1582.0,1082.9 L1594.0,1086.6 L1606.0,1090.3 L1618.0,1094.0 L1630.0,1097.8 L1642.0,1101.6 L1654.0,1105.4 L1666.0,1109.2 L1678.0,1113.1 L1690.0,1117.0 L1702.0,1120.9 L1714.0,1124.8 L1726.0,1128.8 L1738.0,1132.8 L1750.0,1136.8 L1762.0,1140.9 L1774.0,1145.0 L1786.0,1149.1 L1798.0,1153.2 L1810.0,1157.4 L1822.0,1161.6 L1834.0,1165.9 L1846.0,1170.1 L1858.0,1174.4 L1870.0,1178.7 L1882.0,1183.1 L1894.0,1187.5 L1906.0,1191.9 L1918.0,1196.4 L1930.0,1200.8 L1942.0,1205.4 L1954.0,1209.9 L1966.0,1214.5 L1978.0,1219.1 L1990.0,1223.7 L2002.0,1228.4 L2014.0,1233.1 L2026.0,1237.9 L2038.0,1242.7 L2050.0,1247.5 L2062.0,1252.3 L2074.0,1257.2 L2086.0,1262.1 L2098.0,1267.0 L2110.0,1272.0 L2122.0,1277.0 L2134.0,1282.1 L2146.0,1287.2 L2158.0,1292.3 L2170.0,1297.5 L2182.0,1302.7 L2194.0,1307.9 L2206.0,1313.2 L2218.0,1318.5 L2230.0,1323.8 L2242.0,1329.2 L2254.0,1334.6 L2266.0,1340.1 L2278.0,1345.6 L2290.0,1351.1 L2302.0,1356.7 L2314.0,1362.3 L2326.0,1367.9 L2338.0,1373.6 L2350.0,1379.3 L2362.0,1385.1 L2374.0,1390.9 L2382.0,1394.8 L2422.0,1414.2" fill="none" stroke="#001000" stroke-width="4" stroke-opacity="0.92"/>
<path d="M360.0,964.6 L370.0,966.6 L382.0,969.1 L394.0,971.5 L406.0,973.9 L418.0,976.4 L430.0,978.8 L442.0,981.3 L454.0,983.8 L466.0,986.3 L478.0,988.8 L490.0,991.3 L502.0,993.8 L514.0,996.3 L526.0,998.9 L538.0,1001.4 L550.0,1004.0 L562.0,1006.5 L574.0,1009.1 L586.0,1011.7 L598.0,1014.3 L610.0,1016.9 L622.0,1019.6 L634.0,1022.2 L646.0,1024.9 L658.0,1027.5 L670.0,1030.2 L682.0,1032.9 L694.0,1035.6 L706.0,1038.4 L718.0,1041.1 L730.0,1043.9 L742.0,1046.6 L754.0,1049.4 L766.0,1052.2 L778.0,1055.0 L790.0,1057.9 L802.0,1060.7 L814.0,1063.6 L826.0,1066.5 L838.0,1069.4 L850.0,1072.3 L862.0,1075.2 L874.0,1078.2 L886.0,1081.1 L898.0,1084.1 L910.0,1087.1 L922.0,1090.2 L934.0,1093.2 L946.0,1096.3 L958.0,1099.4 L970.0,1102.5 L982.0,1105.6 L994.0,1108.7 L1006.0,1111.9 L1018.0,1115.1 L1030.0,1118.3 L1042.0,1121.5 L1054.0,1124.8 L1066.0,1128.0 L1078.0,1131.3 L1090.0,1134.6 L1102.0,1138.0 L1114.0,1141.3 L1126.0,1144.7 L1138.0,1148.1 L1150.0,1151.5 L1162.0,1155.0 L1174.0,1158.5 L1186.0,1162.0 L1198.0,1165.5 L1210.0,1169.0 L1222.0,1172.6 L1234.0,1176.2 L1246.0,1179.8 L1258.0,1183.5 L1270.0,1187.1 L1282.0,1190.8 L1294.0,1194.6 L1306.0,1198.3 L1318.0,1202.1 L1330.0,1205.9 L1342.0,1209.7 L1354.0,1213.6 L1366.0,1217.5 L1378.0,1221.4 L1390.0,1225.3 L1402.0,1229.3 L1414.0,1233.3 L1426.0,1237.4 L1438.0,1241.4 L1450.0,1245.5 L1462.0,1249.6 L1474.0,1253.8 L1486.0,1257.9 L1498.0,1262.2 L1510.0,1266.4 L1522.0,1270.7 L1534.0,1275.0 L1546.0,1279.3 L1558.0,1283.7 L1570.0,1288.1 L1582.0,1292.5 L1594.0,1297.0 L1606.0,1301.4 L1618.0,1306.0 L1630.0,1310.5 L1642.0,1315.1 L1654.0,1319.8 L1666.0,1324.4 L1678.0,1329.1 L1690.0,1333.8 L1702.0,1338.6 L1714.0,1343.4 L1726.0,1348.2 L1738.0,1353.1 L1750.0,1358.0 L1762.0,1362.9 L1774.0,1367.9 L1786.0,1372.9 L1798.0,1378.0 L1810.0,1383.1 L1822.0,1388.2 L1834.0,1393.3 L1846.0,1398.5 L1858.0,1403.8 L1870.0,1409.0 L1882.0,1414.3 L1894.0,1419.7 L1906.0,1425.1 L1918.0,1430.5 L1930.0,1436.0 L1942.0,1441.5 L1954.0,1447.0 L1966.0,1452.6 L1978.0,1458.2 L1990.0,1463.9 L2002.0,1469.6 L2014.0,1475.3 L2026.0,1481.1 L2038.0,1487.0 L2050.0,1492.8 L2062.0,1498.7 L2074.0,1504.7 L2086.0,1510.7 L2098.0,1516.7 L2110.0,1522.8 L2122.0,1528.9 L2134.0,1535.1 L2146.0,1541.3 L2158.0,1547.6 L2170.0,1553.9 L2182.0,1560.2 L2194.0,1566.6 L2206.0,1573.0 L2218.0,1579.5 L2230.0,1586.0 L2242.0,1592.6 L2254.0,1599.2 L2266.0,1605.9 L2278.0,1612.6 L2290.0,1619.3 L2302.0,1626.1 L2314.0,1633.0 L2326.0,1639.9 L2338.0,1646.8 L2350.0,1653.8 L2362.0,1660.8 L2374.0,1667.9 L2382.0,1672.7 L2422.0,1696.4" fill="none" stroke="#001000" stroke-width="4" stroke-opacity="0.92"/>
<path d="M360.0,1117.7 L370.0,1120.0 L382.0,1122.7 L394.0,1125.5 L406.0,1128.3 L418.0,1131.1 L430.0,1133.9 L442.0,1136.8 L454.0,1139.6 L466.0,1142.5 L478.0,1145.4 L490.0,1148.3 L502.0,1151.2 L514.0,1154.1 L526.0,1157.1 L538.0,1160.1 L550.0,1163.1 L562.0,1166.1 L574.0,1169.1 L586.0,1172.2 L598.0,1175.3 L610.0,1178.4 L622.0,1181.5 L634.0,1184.6 L646.0,1187.8 L658.0,1190.9 L670.0,1194.1 L682.0,1197.3 L694.0,1200.6 L706.0,1203.8 L718.0,1207.1 L730.0,1210.4 L742.0,1213.7 L754.0,1217.0 L766.0,1220.4 L778.0,1223.8 L790.0,1227.2 L802.0,1230.6 L814.0,1234.0 L826.0,1237.5 L838.0,1241.0 L850.0,1244.5 L862.0,1248.0 L874.0,1251.5 L886.0,1255.1 L898.0,1258.7 L910.0,1262.3 L922.0,1265.9 L934.0,1269.6 L946.0,1273.3 L958.0,1277.0 L970.0,1280.7 L982.0,1284.5 L994.0,1288.2 L1006.0,1292.0 L1018.0,1295.8 L1030.0,1299.7 L1042.0,1303.5 L1054.0,1307.4 L1066.0,1311.4 L1078.0,1315.3 L1090.0,1319.3 L1102.0,1323.2 L1114.0,1327.2 L1126.0,1331.3 L1138.0,1335.3 L1150.0,1339.4 L1162.0,1343.5 L1174.0,1347.7 L1186.0,1351.8 L1198.0,1356.0 L1210.0,1360.2 L1222.0,1364.4 L1234.0,1368.7 L1246.0,1373.0 L1258.0,1377.3 L1270.0,1381.6 L1282.0,1386.0 L1294.0,1390.4 L1306.0,1394.8 L1318.0,1399.3 L1330.0,1403.7 L1342.0,1408.2 L1354.0,1412.7 L1366.0,1417.3 L1378.0,1421.9 L1390.0,1426.5 L1402.0,1431.1 L1414.0,1435.7 L1426.0,1440.4 L1438.0,1445.1 L1450.0,1449.9 L1462.0,1454.7 L1474.0,1459.4 L1486.0,1464.3 L1498.0,1469.1 L1510.0,1474.0 L1522.0,1478.9 L1534.0,1483.9 L1546.0,1488.8 L1558.0,1493.8 L1570.0,1498.8 L1582.0,1503.9 L1594.0,1509.0 L1606.0,1514.1 L1618.0,1519.2 L1630.0,1524.4 L1642.0,1529.6 L1654.0,1534.8 L1666.0,1540.1 L1678.0,1545.4 L1690.0,1550.7 L1702.0,1556.0 L1714.0,1561.4 L1726.0,1566.8 L1738.0,1572.3 L1750.0,1577.7 L1762.0,1583.3 L1774.0,1588.8 L1786.0,1594.4 L1798.0,1600.0 L1810.0,1605.6 L1822.0,1611.3 L1834.0,1617.1 L1846.0,1622.9 L1858.0,1628.8 L1870.0,1634.8 L1882.0,1640.9 L1894.0,1647.1 L1906.0,1653.4 L1918.0,1659.9 L1930.0,1666.5 L1942.0,1673.2 L1954.0,1680.1 L1966.0,1687.1 L1978.0,1694.3 L1990.0,1701.7 L2002.0,1709.3 L2014.0,1717.1 L2026.0,1725.0 L2030.0,1727.8 L2070.0,1754.8" fill="none" stroke="#001000" stroke-width="4" stroke-opacity="0.92"/>
<path d="M360.0,1273.1 L370.0,1275.6 L382.0,1278.6 L394.0,1281.6 L406.0,1284.6 L418.0,1287.7 L430.0,1290.8 L442.0,1294.0 L454.0,1297.1 L466.0,1300.3 L478.0,1303.5 L490.0,1306.8 L502.0,1310.1 L514.0,1313.4 L526.0,1316.7 L538.0,1320.1 L550.0,1323.5 L562.0,1326.9 L574.0,1330.4 L586.0,1333.8 L598.0,1337.3 L610.0,1340.9 L622.0,1344.4 L634.0,1348.0 L646.0,1351.6 L658.0,1355.3 L670.0,1358.9 L682.0,1362.6 L694.0,1366.3 L706.0,1370.1 L718.0,1373.9 L730.0,1377.7 L742.0,1381.5 L754.0,1385.3 L766.0,1389.2 L778.0,1393.1 L790.0,1397.0 L802.0,1400.9 L814.0,1404.9 L826.0,1408.9 L838.0,1412.9 L850.0,1416.9 L862.0,1421.0 L874.0,1425.1 L886.0,1429.2 L898.0,1433.3 L910.0,1437.4 L922.0,1441.6 L934.0,1445.8 L946.0,1450.0 L958.0,1454.3 L970.0,1458.5 L982.0,1462.8 L994.0,1467.1 L1006.0,1471.4 L1018.0,1475.8 L1030.0,1480.1 L1042.0,1484.5 L1054.0,1488.9 L1066.0,1493.3 L1078.0,1497.8 L1090.0,1502.3 L1102.0,1506.7 L1114.0,1511.2 L1126.0,1515.8 L1138.0,1520.3 L1150.0,1524.9 L1162.0,1529.5 L1174.0,1534.1 L1186.0,1538.8 L1198.0,1543.4 L1210.0,1548.1 L1222.0,1552.9 L1234.0,1557.7 L1246.0,1562.5 L1258.0,1567.3 L1270.0,1572.2 L1282.0,1577.1 L1294.0,1582.1 L1306.0,1587.1 L1318.0,1592.1 L1330.0,1597.2 L1342.0,1602.3 L1354.0,1607.5 L1366.0,1612.7 L1378.0,1618.0 L1390.0,1623.3 L1402.0,1628.7 L1414.0,1634.1 L1426.0,1639.6 L1438.0,1645.1 L1450.0,1650.7 L1462.0,1656.3 L1474.0,1662.0 L1486.0,1667.8 L1498.0,1673.6 L1510.0,1679.5 L1522.0,1685.4 L1534.0,1691.5 L1546.0,1697.5 L1558.0,1703.7 L1570.0,1709.9 L1582.0,1716.2 L1594.0,1722.6 L1604.0,1727.9 L1644.0,1749.4" fill="none" stroke="#001000" stroke-width="4" stroke-opacity="0.92"/>
<path d="M360.0,1428.0 L370.0,1431.2 L382.0,1435.0 L394.0,1438.8 L406.0,1442.6 L418.0,1446.4 L430.0,1450.2 L442.0,1454.1 L454.0,1457.9 L466.0,1461.8 L478.0,1465.6 L490.0,1469.5 L502.0,1473.4 L514.0,1477.3 L526.0,1481.2 L538.0,1485.2 L550.0,1489.1 L562.0,1493.1 L574.0,1497.0 L586.0,1501.0 L598.0,1505.0 L610.0,1509.1 L622.0,1513.1 L634.0,1517.1 L646.0,1521.2 L658.0,1525.3 L670.0,1529.4 L682.0,1533.6 L694.0,1537.7 L706.0,1541.9 L718.0,1546.1 L730.0,1550.3 L742.0,1554.5 L754.0,1558.8 L766.0,1563.1 L778.0,1567.4 L790.0,1571.7 L802.0,1576.1 L814.0,1580.4 L826.0,1584.8 L838.0,1589.3 L850.0,1593.7 L862.0,1598.2 L874.0,1602.7 L886.0,1607.2 L898.0,1611.8 L910.0,1616.4 L922.0,1621.0 L934.0,1625.6 L946.0,1630.3 L958.0,1635.0 L970.0,1639.7 L982.0,1644.5 L994.0,1649.3 L1006.0,1654.1 L1018.0,1659.0 L1030.0,1663.9 L1042.0,1668.8 L1054.0,1673.8 L1066.0,1678.8 L1078.0,1683.8 L1090.0,1688.9 L1102.0,1694.0 L1114.0,1699.1 L1126.0,1704.3 L1138.0,1709.5 L1150.0,1714.7 L1162.0,1720.0 L1174.0,1725.3 L1180.0,1728.0 L1220.0,1745.8" fill="none" stroke="#001000" stroke-width="4" stroke-opacity="0.92"/>
<path d="M360.0,1585.7 L370.0,1589.0 L382.0,1592.9 L394.0,1596.9 L406.0,1600.9 L418.0,1604.9 L430.0,1609.0 L442.0,1613.0 L454.0,1617.1 L466.0,1621.2 L478.0,1625.3 L490.0,1629.5 L502.0,1633.7 L514.0,1637.9 L526.0,1642.1 L538.0,1646.3 L550.0,1650.6 L562.0,1654.9 L574.0,1659.2 L586.0,1663.6 L598.0,1667.9 L610.0,1672.3 L622.0,1676.7 L634.0,1681.2 L646.0,1685.6 L658.0,1690.1 L670.0,1694.6 L682.0,1699.2 L694.0,1703.7 L706.0,1708.3 L718.0,1712.9 L730.0,1717.5 L742.0,1722.2 L754.0,1726.8 L757.0,1728.0 L797.0,1743.6" fill="none" stroke="#001000" stroke-width="4" stroke-opacity="0.92"/>
</g>
<rect x="370.0" y="310.0" width="2011.5" height="1421.0" fill="none" stroke="#16161e" stroke-width="4.8"/>
<line x1="337" y1="1731.4" x2="370.0" y2="1731.4" stroke="#3a3a3a" stroke-width="5"/>
<line x1="312" y1="1637.3" x2="370.0" y2="1637.3" stroke="#3a3a3a" stroke-width="5"/>
<line x1="337" y1="1539.0" x2="370.0" y2="1539.0" stroke="#3a3a3a" stroke-width="5"/>
<line x1="312" y1="1444.0" x2="370.0" y2="1444.0" stroke="#3a3a3a" stroke-width="5"/>
<line x1="337" y1="1350.0" x2="370.0" y2="1350.0" stroke="#3a3a3a" stroke-width="5"/>
<line x1="312" y1="1256.0" x2="370.0" y2="1256.0" stroke="#3a3a3a" stroke-width="5"/>
<line x1="337" y1="1161.0" x2="370.0" y2="1161.0" stroke="#3a3a3a" stroke-width="5"/>
<line x1="312" y1="1065.5" x2="370.0" y2="1065.5" stroke="#3a3a3a" stroke-width="5"/>
<line x1="337" y1="972.0" x2="370.0" y2="972.0" stroke="#3a3a3a" stroke-width="5"/>
<line x1="312" y1="874.0" x2="370.0" y2="874.0" stroke="#3a3a3a" stroke-width="5"/>
<line x1="337" y1="780.0" x2="370.0" y2="780.0" stroke="#3a3a3a" stroke-width="5"/>
<line x1="312" y1="685.5" x2="370.0" y2="685.5" stroke="#3a3a3a" stroke-width="5"/>
<line x1="337" y1="592.0" x2="370.0" y2="592.0" stroke="#3a3a3a" stroke-width="5"/>
<line x1="312" y1="497.3" x2="370.0" y2="497.3" stroke="#3a3a3a" stroke-width="5"/>
<line x1="337" y1="403.0" x2="370.0" y2="403.0" stroke="#3a3a3a" stroke-width="5"/>
<line x1="312" y1="309.0" x2="370.0" y2="309.0" stroke="#3a3a3a" stroke-width="5"/>
<line x1="369.8" y1="1731.0" x2="369.8" y2="1783" stroke="#3a3a3a" stroke-width="5"/>
<line x1="509.6" y1="1731.0" x2="509.6" y2="1762" stroke="#3a3a3a" stroke-width="5"/>
<line x1="657.0" y1="1731.0" x2="657.0" y2="1783" stroke="#3a3a3a" stroke-width="5"/>
<line x1="800.7" y1="1731.0" x2="800.7" y2="1762" stroke="#3a3a3a" stroke-width="5"/>
<line x1="941.5" y1="1731.0" x2="941.5" y2="1783" stroke="#3a3a3a" stroke-width="5"/>
<line x1="1088.0" y1="1731.0" x2="1088.0" y2="1762" stroke="#3a3a3a" stroke-width="5"/>
<line x1="1232.6" y1="1731.0" x2="1232.6" y2="1783" stroke="#3a3a3a" stroke-width="5"/>
<line x1="1379.0" y1="1731.0" x2="1379.0" y2="1762" stroke="#3a3a3a" stroke-width="5"/>
<line x1="1518.7" y1="1731.0" x2="1518.7" y2="1783" stroke="#3a3a3a" stroke-width="5"/>
<line x1="1663.4" y1="1731.0" x2="1663.4" y2="1762" stroke="#3a3a3a" stroke-width="5"/>
<line x1="1810.4" y1="1731.0" x2="1810.4" y2="1783" stroke="#3a3a3a" stroke-width="5"/>
<line x1="1950.7" y1="1731.0" x2="1950.7" y2="1762" stroke="#3a3a3a" stroke-width="5"/>
<line x1="2095.4" y1="1731.0" x2="2095.4" y2="1783" stroke="#3a3a3a" stroke-width="5"/>
<line x1="2240.7" y1="1731.0" x2="2240.7" y2="1762" stroke="#3a3a3a" stroke-width="5"/>
<line x1="2381.5" y1="1731.0" x2="2381.5" y2="1783" stroke="#3a3a3a" stroke-width="5"/>
<text transform="translate(289,1670.0) scale(1.045,1)" text-anchor="end" font-size="105" class="b" fill="#000">6</text>
<text transform="translate(289,1481.0) scale(1.045,1)" text-anchor="end" font-size="105" class="b" fill="#000">8</text>
<text transform="translate(289,1288.0) scale(1.045,1)" text-anchor="end" font-size="105" class="b" fill="#000">10</text>
<text transform="translate(289,1099.7) scale(1.045,1)" text-anchor="end" font-size="105" class="b" fill="#000">12</text>
<text transform="translate(289,910.0) scale(1.045,1)" text-anchor="end" font-size="105" class="b" fill="#000">14</text>
<text transform="translate(289,718.0) scale(1.045,1)" text-anchor="end" font-size="105" class="b" fill="#000">16</text>
<text transform="translate(289,529.2) scale(1.045,1)" text-anchor="end" font-size="105" class="b" fill="#000">18</text>
<text transform="translate(289,341.4) scale(1.045,1)" text-anchor="end" font-size="105" class="b" fill="#000">20</text>
<text transform="translate(361.5,1898) scale(1.04,1)" text-anchor="middle" font-size="105" class="b" fill="#000">0.01</text>
<text transform="translate(654,1898) scale(1.04,1)" text-anchor="middle" font-size="105" class="b" fill="#000">0.02</text>
<text transform="translate(940.7,1898) scale(1.04,1)" text-anchor="middle" font-size="105" class="b" fill="#000">0.03</text>
<text transform="translate(1230,1898) scale(1.04,1)" text-anchor="middle" font-size="105" class="b" fill="#000">0.04</text>
<text transform="translate(1517,1898) scale(1.04,1)" text-anchor="middle" font-size="105" class="b" fill="#000">0.05</text>
<text transform="translate(1804,1898) scale(1.04,1)" text-anchor="middle" font-size="105" class="b" fill="#000">0.06</text>
<text transform="translate(2091.5,1898) scale(1.04,1)" text-anchor="middle" font-size="105" class="b" fill="#000">0.07</text>
<text transform="translate(2378,1898) scale(1.04,1)" text-anchor="middle" font-size="105" class="b" fill="#000">0.08</text>
<text x="642.4" y="113.3" font-size="122" class="b" textLength="1539.5" lengthAdjust="spacingAndGlyphs" fill="#000">Interfacial tension (mN/m)</text>
<text x="1056.6" y="2048" font-size="115" class="b" textLength="631.7" lengthAdjust="spacingAndGlyphs" fill="#000">SDBS (w%)</text>
<text transform="translate(114,1390.2) rotate(-90)" font-size="122" class="b" textLength="749.9" lengthAdjust="spacingAndGlyphs" fill="#000">PEG 500 (w%)</text>
<rect x="356.1" y="1553.3" width="283.5" height="152.0" fill="#fff" stroke="#17171f" stroke-width="4"/>
<text transform="translate(496.4,1657.8) scale(1.015,1)" text-anchor="middle" font-size="89" class="r" fill="#000" stroke="#000" stroke-width="3.3" stroke-linejoin="round">35.91</text>
<rect x="553.0" y="1459.3" width="284.6" height="153.1" fill="#fff" stroke="#17171f" stroke-width="4"/>
<text transform="translate(689.8,1564.3) scale(1.015,1)" text-anchor="middle" font-size="89" class="r" fill="#000" stroke="#000" stroke-width="3.3" stroke-linejoin="round">35.64</text>
<rect x="811.9" y="1378.7" width="285.7" height="153.9" fill="#fff" stroke="#17171f" stroke-width="4"/>
<text transform="translate(951.2,1484.2) scale(1.015,1)" text-anchor="middle" font-size="89" class="r" fill="#000" stroke="#000" stroke-width="3.3" stroke-linejoin="round">35.37</text>
<rect x="1162.0" y="1306.7" width="232.0" height="151.3" fill="#fff" stroke="#17171f" stroke-width="4"/>
<text transform="translate(1272.5,1410.8) scale(1.015,1)" text-anchor="middle" font-size="89" class="r" fill="#000" stroke="#000" stroke-width="3.3" stroke-linejoin="round">35.1</text>
<rect x="1264.7" y="1157.5" width="284.8" height="151.8" fill="#fff" stroke="#17171f" stroke-width="4"/>
<text transform="translate(1405.6,1261.9) scale(1.015,1)" text-anchor="middle" font-size="89" class="r" fill="#000" stroke="#000" stroke-width="3.3" stroke-linejoin="round">34.83</text>
<rect x="1332.4" y="973.6" width="285.3" height="152.9" fill="#fff" stroke="#17171f" stroke-width="4"/>
<text transform="translate(1469.6,1078.5) scale(1.015,1)" text-anchor="middle" font-size="89" class="r" fill="#000" stroke="#000" stroke-width="3.3" stroke-linejoin="round">34.56</text>
<rect x="1202.5" y="740.7" width="284.8" height="152.8" fill="#fff" stroke="#17171f" stroke-width="4"/>
<text transform="translate(1339.4,845.6) scale(1.015,1)" text-anchor="middle" font-size="89" class="r" fill="#000" stroke="#000" stroke-width="3.3" stroke-linejoin="round">34.29</text>
<rect x="1202.5" y="546.0" width="284.8" height="154.0" fill="#fff" stroke="#17171f" stroke-width="4"/>
<text transform="translate(1339.4,651.5) scale(1.015,1)" text-anchor="middle" font-size="89" class="r" fill="#000" stroke="#000" stroke-width="3.3" stroke-linejoin="round">34.02</text>
<rect x="1202.2" y="348.2" width="285.8" height="153.8" fill="#fff" stroke="#17171f" stroke-width="4"/>
<text transform="translate(1339.6,453.6) scale(1.015,1)" text-anchor="middle" font-size="89" class="r" fill="#000" stroke="#000" stroke-width="3.3" stroke-linejoin="round">33.75</text>
</svg>
</body></html>
